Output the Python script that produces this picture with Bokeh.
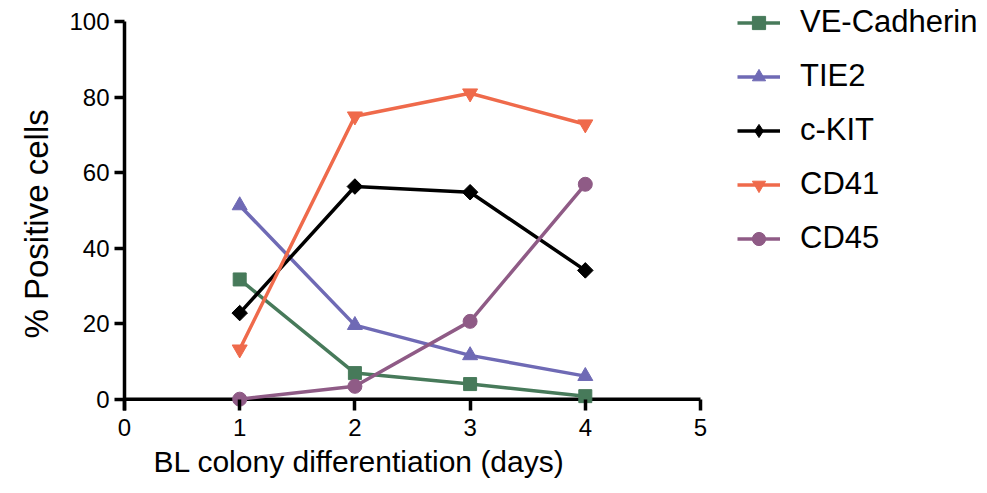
import math
from bokeh.plotting import figure
from bokeh.models import Range1d, Legend, LegendItem, FixedTicker, Title
from bokeh.embed import file_html
from bokeh.resources import INLINE

days = [1, 2, 3, 4]
ve_cadherin = [31.7, 6.9, 4.0, 0.8]
tie2 = [51.3, 19.6, 11.6, 6.1]
ckit = [22.8, 56.3, 54.8, 34.1]
cd41 = [13.2, 74.9, 81.0, 72.8]
cd45 = [0.0, 3.4, 20.6, 56.9]
x_ticks = [0, 1, 2, 3, 4, 5]
y_ticks = [0, 20, 40, 60, 80, 100]

series = [
    ("VE-Cadherin", ve_cadherin, "#477a5a", "square", 13, 0),
    ("TIE2", tie2, "#6f6ab5", "triangle", 15, 0),
    ("c-KIT", ckit, "#000000", "square", 11, math.pi / 4),
    ("CD41", cd41, "#ef6a4b", "inverted_triangle", 15, 0),
    ("CD45", cd45, "#8f5b86", "circle", 14, 0),
]

FONT = "Liberation Sans"

# frame spans to the right edge (room for the legend); axes are bounded to the data span
X_END = 5 * 863 / 576
Y_END = 100 + 21 / (389 / 103)

p = figure(width=987, height=493, output_backend="svg", toolbar_location=None,
           x_range=Range1d(0, X_END), y_range=Range1d(-3, Y_END),
           min_border_left=124, min_border_right=0, min_border_top=0, min_border_bottom=83)
p.outline_line_color = None
p.grid.visible = False
p.background_fill_color = None
p.border_fill_color = "white"

# x axis baseline at y = 0, from first to last tick
p.segment(x0=[x_ticks[0]], y0=[0], x1=[x_ticks[-1]], y1=[0], line_color="black", line_width=3.5)

items = []
for name, vals, color, marker, size, ang in series:
    l = p.line(days, vals, line_color=color, line_width=3.5)
    rs = [l]
    if ang:
        # tall diamond (fully hidden under the rotated square) used for the legend symbol
        rs.append(p.scatter(days, vals, marker="diamond", size=14, fill_color=color, line_color=color))
        p.scatter(days, vals, marker=marker, size=size, angle=ang, fill_color=color, line_color=color)
    else:
        rs.append(p.scatter(days, vals, marker=marker, size=size, fill_color=color, line_color=color))
    items.append(LegendItem(label=name, renderers=rs))

for ax in (p.xaxis[0], p.yaxis[0]):
    ax.axis_line_width = 3.5
    ax.major_tick_line_width = 3.5
    ax.minor_tick_line_color = None
    ax.major_label_text_font = FONT
    ax.major_label_text_font_size = "24px"
    ax.major_label_text_color = "black"

xa = p.xaxis[0]
xa.axis_line_color = None
xa.bounds = (x_ticks[0], x_ticks[-1])
xa.major_tick_in = 11
xa.major_tick_out = 0
xa.ticker = FixedTicker(ticks=x_ticks)
xa.major_label_standoff = 8

ya = p.yaxis[0]
ya.bounds = (-3, y_ticks[-1])
ya.major_tick_out = 10
ya.major_tick_in = 0
ya.ticker = FixedTicker(ticks=y_ticks)
ya.major_label_standoff = 5

xtitle = Title(text="BL colony differentiation (days)", align="left", offset=29,
               text_font=FONT, text_font_size="30px", text_font_style="normal",
               text_color="black", standoff=9)
p.add_layout(xtitle, "below")

ytitle = Title(text="% Positive cells", align="left", offset=72,
               text_font=FONT, text_font_size="33px", text_font_style="normal",
               text_color="black", standoff=24)
p.add_layout(ytitle, "left")

legend = Legend(items=items, location=(613, 154), orientation="vertical")
legend.label_text_font = FONT
legend.label_text_font_size = "31px"
legend.label_text_color = "black"
legend.glyph_width = 43
legend.glyph_height = 33
legend.label_height = 35
legend.label_standoff = 20
legend.spacing = 18
legend.padding = 0
legend.margin = 0
legend.border_line_color = None
legend.background_fill_alpha = 0
p.add_layout(legend, "center")

open("out.html", "w").write(file_html(p, INLINE))
